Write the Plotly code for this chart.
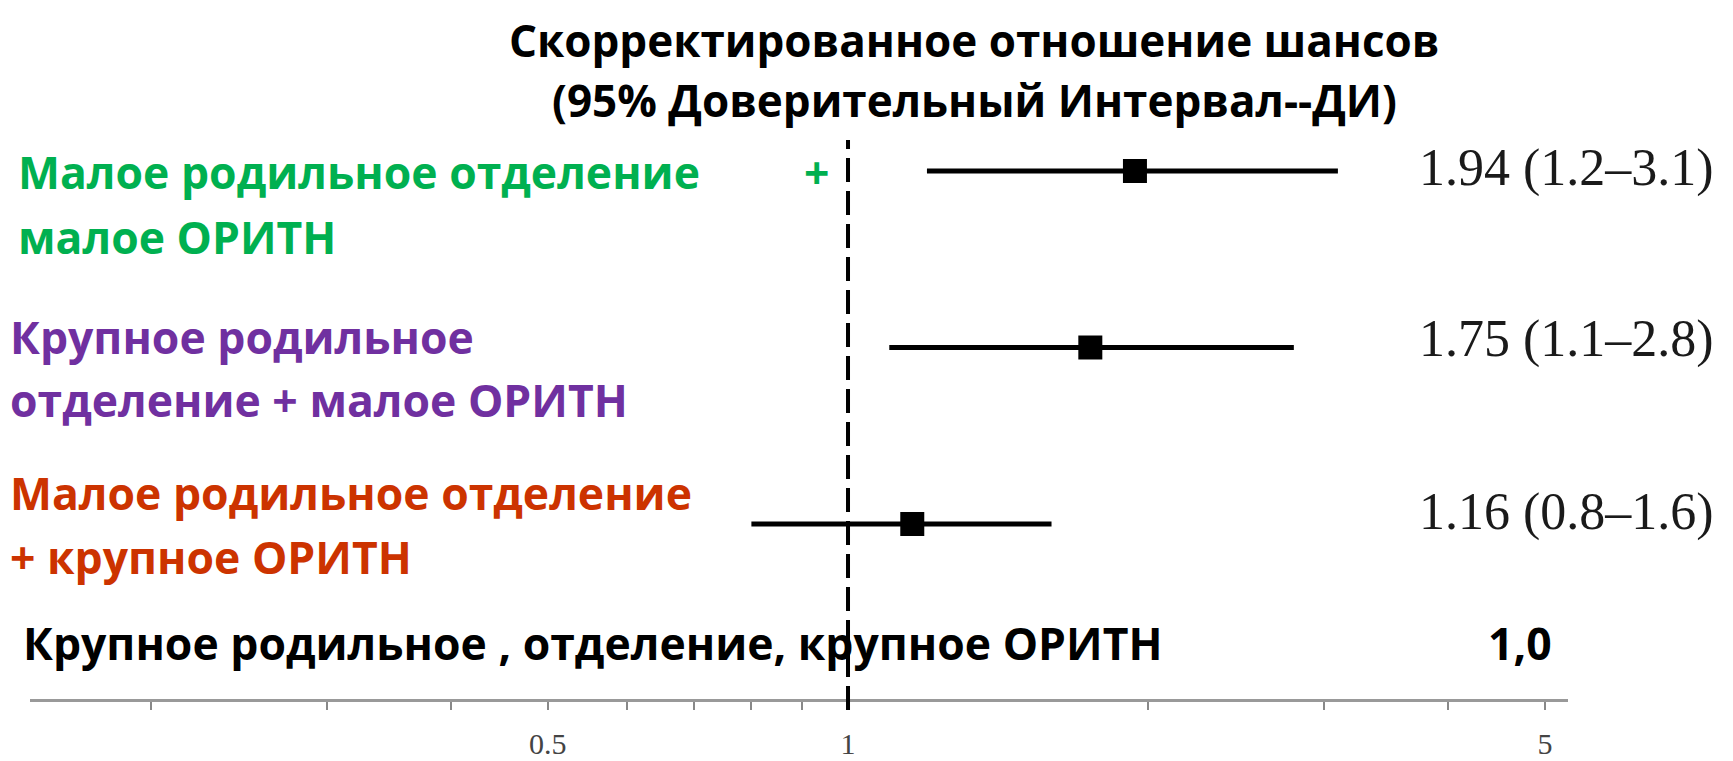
import math
import plotly.graph_objects as go

# ---- data ----
group_lines = [
    ["Малое родильное отделение\u00a0\u00a0\u00a0\u00a0\u00a0\u00a0\u00a0\u00a0\u00a0+", "малое ОРИТН"],
    ["Крупное родильное", "отделение + малое ОРИТН"],
    ["Малое родильное отделение", "+ крупное ОРИТН"],
]
odds_ratio = [1.94, 1.75, 1.16]
ci_low = [1.2, 1.1, 0.8]
ci_high = [3.1, 2.8, 1.6]
ci_low_txt = ["1.2", "1.1", "0.8"]
ci_high_txt = ["3.1", "2.8", "1.6"]
reference_label = "Крупное родильное , отделение, крупное ОРИТН"
reference_value = "1,0"
tick_vals = [0.2, 0.3, 0.4, 0.5, 0.6, 0.7, 0.8, 0.9, 1, 2, 3, 4, 5]
tick_text = ["", "", "", "0.5", "", "", "", "", "1", "", "", "", "5"]
title_lines = ["Скорректированное отношение шансов", "(95% Доверительный Интервал--ДИ)"]

# ---- styles / layout (pixel units) ----
W, H = 1733, 761
label_colors = ["#00B050", "#7030A0", "#CC3300"]
row_pos = [2, 1, 0]
label_x = [8, 0, 0]
label_line_y = [[163, 228], [328, 391], [484, 548]]
value_shift = [3.5, 8.5, 12]
title_y2 = 92
ref_y = 634
label_font = "Open Sans"
label_size = 44.5


def py(px):
    return 1 - px / H


fig = go.Figure()

for i in range(len(odds_ratio)):
    fig.add_trace(go.Scatter(
        x=[ci_low[i], ci_high[i]], y=[row_pos[i], row_pos[i]],
        mode="lines", line=dict(color="black", width=5),
        showlegend=False, hoverinfo="skip"))

fig.add_trace(go.Scatter(
    x=odds_ratio, y=row_pos, mode="markers",
    marker=dict(symbol="square", size=24, color="black"),
    showlegend=False))

fig.add_shape(type="line", xref="x", yref="paper", x0=1, x1=1, y0=py(702), y1=py(132),
              line=dict(color="black", width=4, dash="24px,9px"))

for i, lines in enumerate(group_lines):
    for j, ln in enumerate(lines):
        fig.add_annotation(text=ln, xref="paper", yref="paper", x=label_x[i] / W,
                           y=py(label_line_y[i][j]), xanchor="left", yanchor="middle",
                           showarrow=False,
                           font=dict(family=label_font, size=label_size,
                                     color=label_colors[i], weight="bold"))
    value_text = f"{odds_ratio[i]:.2f} ({ci_low_txt[i]}–{ci_high_txt[i]})"
    fig.add_annotation(text=value_text,
                       xref="paper", yref="y", x=1409 / W, y=row_pos[i],
                       xanchor="left", yanchor="middle", showarrow=False,
                       yshift=value_shift[i],
                       font=dict(family="Liberation Serif", size=52, color="#1a1a1a"))

fig.add_annotation(text=reference_label, xref="paper", yref="paper", x=13 / W, y=py(ref_y),
                   xanchor="left", yanchor="middle", showarrow=False,
                   font=dict(family=label_font, size=label_size, color="black", weight="bold"))
fig.add_annotation(text=reference_value, xref="paper", yref="paper", x=1512 / W,
                   y=py(ref_y), xanchor="center", yanchor="middle", showarrow=False,
                   font=dict(family=label_font, size=label_size, color="black", weight="bold"))

fig.add_annotation(text=title_lines[0], xref="paper", yref="paper", x=966 / W, y=1,
                   xanchor="center", yanchor="top", showarrow=False,
                   font=dict(family=label_font, size=44, color="black", weight="bold"))
fig.add_annotation(text=title_lines[1], xref="paper", yref="paper", x=966 / W, y=py(title_y2),
                   xanchor="center", yanchor="middle", showarrow=False,
                   font=dict(family=label_font, size=44, color="black", weight="bold"))

x_left = math.log10(0.1512)
x_right = math.log10(5.274)

fig.update_xaxes(type="log", range=[x_left, x_right], domain=[22 / W, 1560 / W],
                 tickvals=tick_vals, ticktext=tick_text, ticks="outside", ticklen=8,
                 tickwidth=2, tickcolor="#888", showline=True, linecolor="#999", linewidth=3,
                 showgrid=False, zeroline=False, ticklabelstandoff=8,
                 tickfont=dict(family="Liberation Serif", size=30, color="#444"))
fig.update_yaxes(range=[-0.9887, 2.9235], domain=[py(690.5), 1], visible=False,
                 showgrid=False, zeroline=False)

fig.update_layout(width=W, height=H, margin=dict(l=0, r=0, t=0, b=0),
                  plot_bgcolor="white", paper_bgcolor="white", showlegend=False)

fig.write_html("out.html")
